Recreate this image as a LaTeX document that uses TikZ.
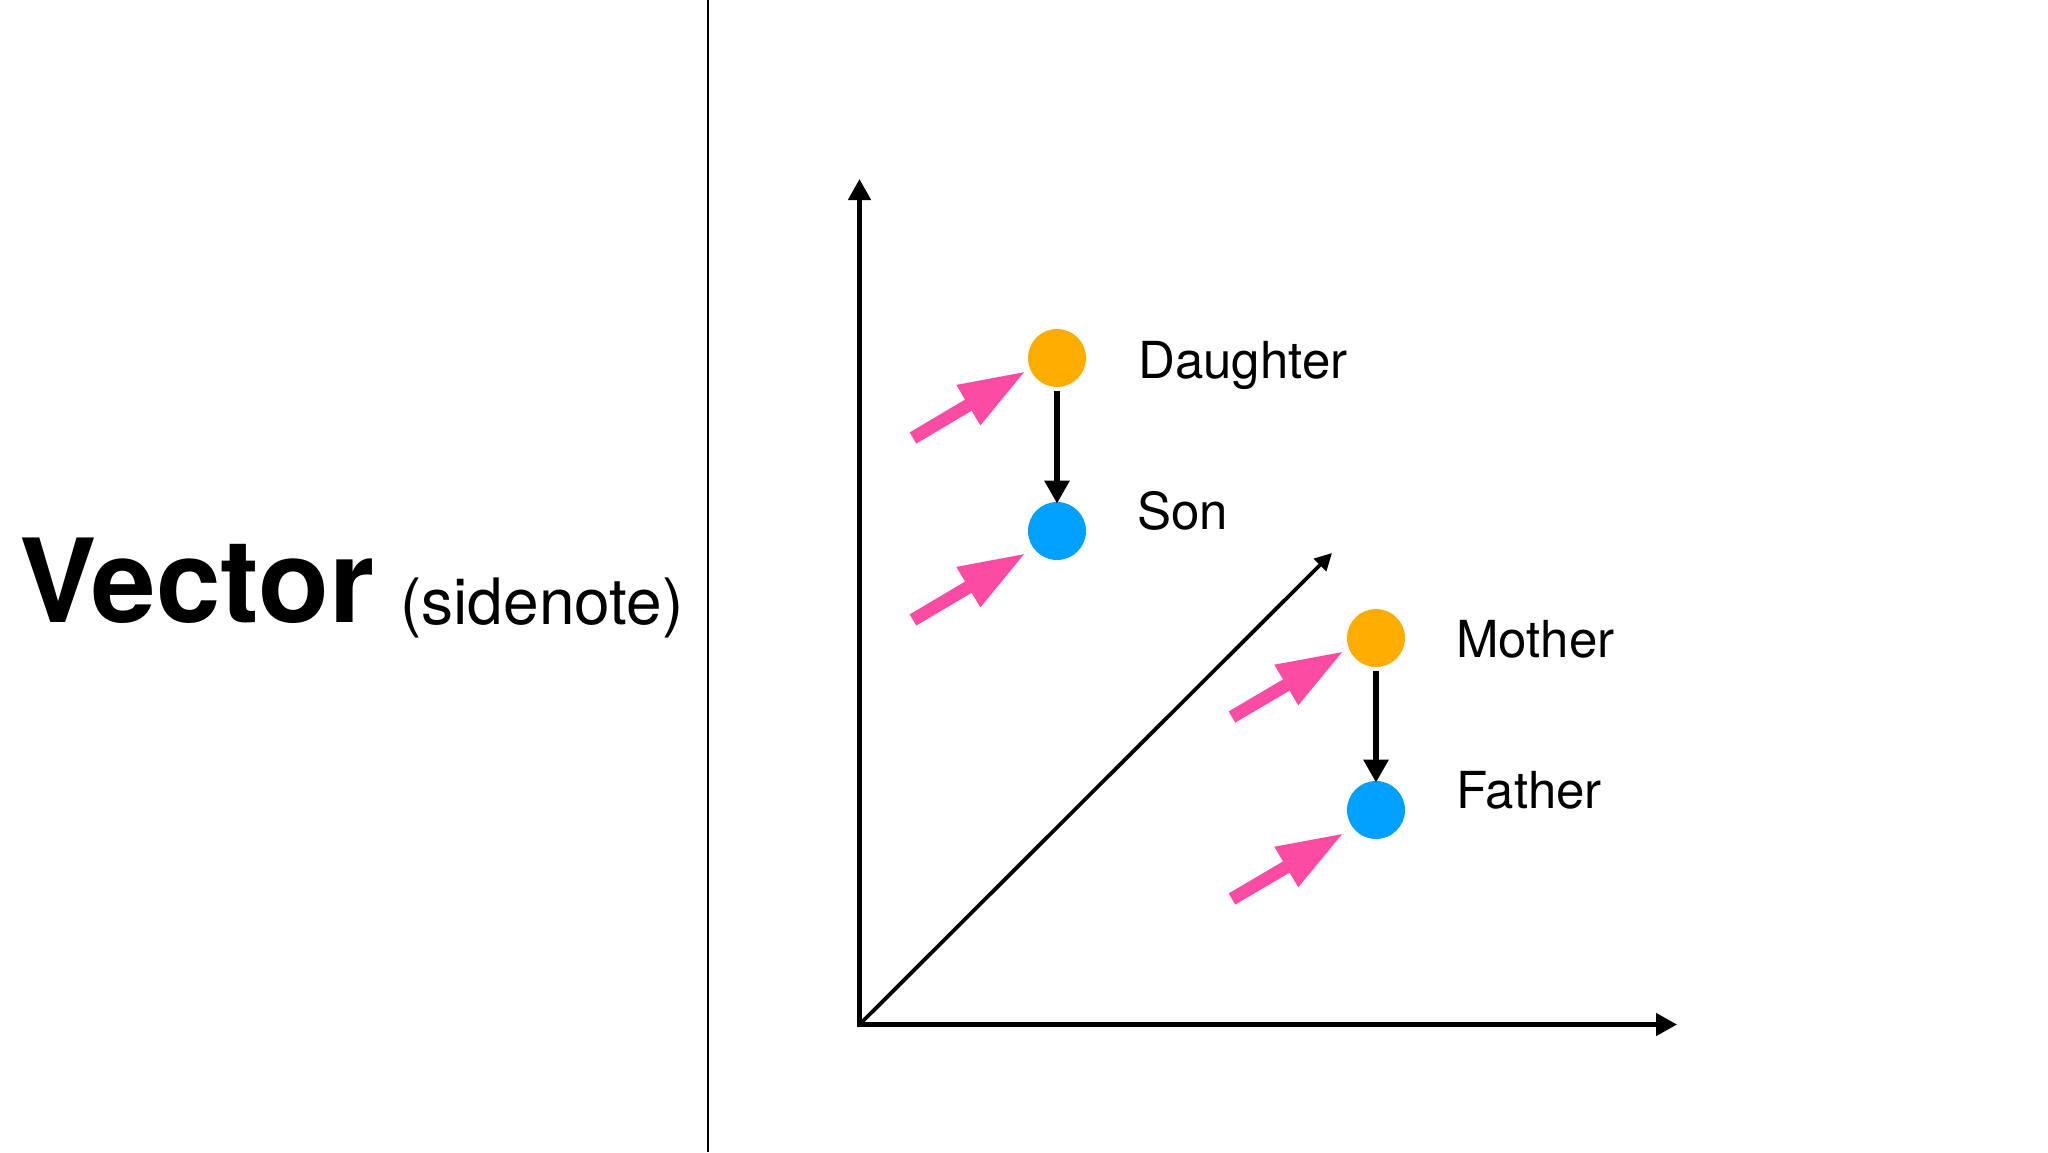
\documentclass[tikz,border=0pt]{standalone}
\usepackage{fontspec}
\setmainfont{TeX Gyre Heros}
\usetikzlibrary{arrows.meta,calc}
\definecolor{dotorange}{HTML}{FFAC00}
\definecolor{dotblue}{HTML}{00A0FF}
\definecolor{hintpink}{HTML}{FB4BA3}
\tikzset{
  dot/.style={circle, minimum size=29pt, inner sep=0pt, draw=none},
  axisline/.style={line width=2.25pt, line join=miter, {Triangle[length=10.5pt,width=11pt]}-{Triangle[length=10.5pt,width=11pt]}},
  diagline/.style={line width=1.9pt, -{Triangle[length=8.5pt,width=8.5pt]}},
  linkline/.style={line width=3pt, -{Triangle[length=11.5pt,width=12pt]}, shorten <=2pt, shorten >=-1pt},
  hint/.style={draw=hintpink, fill=hintpink, line width=6.5pt, -{Triangle[length=33.5pt,width=21.5pt]}},
  lbl/.style={anchor=base west, inner sep=0pt, font=\fontsize{25.5pt}{30pt}\selectfont},
}
\begin{document}
\begin{tikzpicture}[x=0.5pt,y=-0.5pt]
\path[use as bounding box] (0,0) rectangle (2048,1152);
% divider
\coordinate (divtop) at (708,0);
\coordinate (divbot) at (708,1152);
\draw[line width=1pt] (divtop) -- (divbot);
% title
\node[anchor=base west, inner sep=0pt, font=\fontsize{58pt}{70pt}\selectfont\bfseries] (title) at (19,622) {Vector};
\node[anchor=base west, inner sep=0pt, font=\fontsize{32pt}{38pt}\selectfont] (note) at (400,624) {(sidenote)};
% axes
\coordinate (O) at (859.5,1024.5);
\coordinate (Y) at (859.5,179);
\coordinate (X) at (1677,1024.5);
\coordinate (Z) at (1332,553);
\draw[axisline] (Y) -- (O) -- (X);
\draw[diagline] (O) -- (Z);
% dots
\node[dot, fill=dotorange] (D) at (1057,358) {};
\node[dot, fill=dotblue] (S) at (1057,531) {};
\node[dot, fill=dotorange] (M) at (1376,638) {};
\node[dot, fill=dotblue] (F) at (1376,810) {};
% labels
\node[lbl] (Dl) at (1138,378) {Daughter};
\node[lbl] (Sl) at (1137,529) {Son};
\node[lbl] (Ml) at (1456,657) {Mother};
\node[lbl] (Fl) at (1456,808) {Father};
% links
\draw[linkline] (D) -- (S);
\draw[linkline] (M) -- (F);
% pink hint arrows
\coordinate (Dt) at (913,438);  \coordinate (Dh) at ($(D)+(-31,13)$);
\coordinate (St) at (913,620);  \coordinate (Sh) at ($(S)+(-31,22)$);
\coordinate (Mt) at (1232,717); \coordinate (Mh) at ($(M)+(-32,13)$);
\coordinate (Ft) at (1232,899); \coordinate (Fh) at ($(F)+(-32,23)$);
\draw[hint] (Dt) -- (Dh);
\draw[hint] (St) -- (Sh);
\draw[hint] (Mt) -- (Mh);
\draw[hint] (Ft) -- (Fh);
\end{tikzpicture}
\end{document}
